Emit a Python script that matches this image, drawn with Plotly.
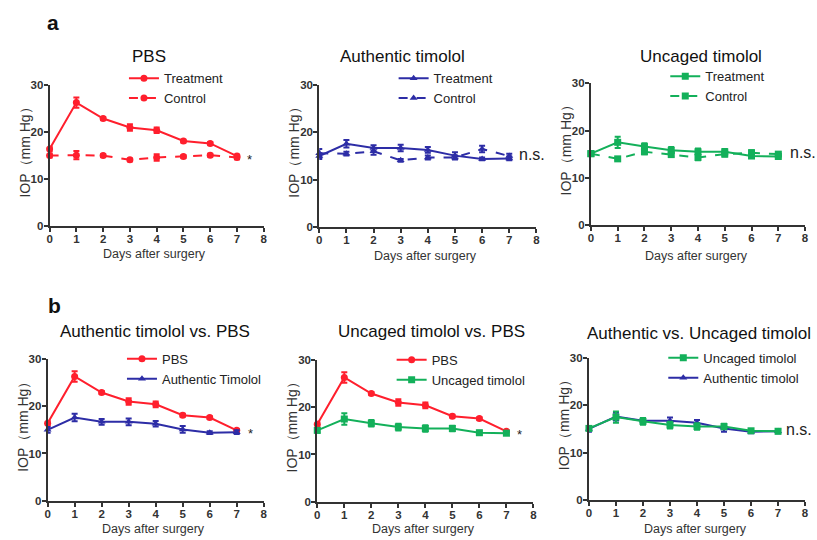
import plotly.graph_objects as go

W, H = 817, 540
days = [0, 1, 2, 3, 4, 5, 6, 7]

pbs_trt = [16.4, 26.3, 22.9, 21.0, 20.4, 18.1, 17.6, 14.9]
pbs_trt_err = [0.5, 1.1, 0.3, 0.7, 0.6, 0.3, 0.3, 0.3]
pbs_ctl = [15.0, 15.1, 15.0, 14.1, 14.6, 14.8, 15.1, 14.6]
pbs_ctl_err = [0.4, 0.9, 0.3, 0.3, 0.7, 0.3, 0.3, 0.4]

auth_trt = [15.0, 17.6, 16.7, 16.7, 16.3, 15.1, 14.4, 14.5]
auth_trt_err = [0.6, 0.8, 0.6, 0.7, 0.6, 0.7, 0.3, 0.4]
auth_ctl = [15.6, 15.5, 16.0, 14.1, 14.7, 14.7, 16.5, 15.0]
auth_ctl_err = [0.9, 0.4, 0.7, 0.3, 0.4, 0.4, 0.7, 0.5]

unc_trt = [15.1, 17.5, 16.6, 15.8, 15.5, 15.5, 14.6, 14.5]
unc_trt_err = [0.5, 1.2, 0.7, 0.7, 0.7, 0.6, 0.4, 0.4]
unc_ctl = [15.1, 14.0, 15.5, 14.9, 14.3, 15.0, 15.3, 15.0]
unc_ctl_err = [0.3, 0.3, 0.5, 0.4, 0.6, 0.5, 0.5, 0.4]

RED = "#ff1f2d"
BLUE = "#2d2da6"
GREEN = "#13b05a"
AX = "#333333"

# panel pixel boxes: (x_left, x_right, y_top(30), y_bottom(0))
boxes = [
    (47, 263, 81, 225),
    (319, 538, 81, 226),
    (593, 809, 79, 224),
    (45, 263, 361, 506),
    (317, 535, 362, 507),
    (591, 809, 360, 505),
]
titles = ["PBS", "Authentic timolol", "Uncaged timolol",
          "Authentic timolol vs. PBS", "Uncaged timolol vs. PBS",
          "Authentic vs. Uncaged timolol"]
title_x = [147, 403, 704, 153, 432, 702]
title_y = [52, 52, 52, 333, 333, 335]
xtitle_y = [254, 256, 256, 535, 535, 535]
x_title = "Days after surgery"
y_title = "IOP（mm Hg）"

# each panel: list of (name, y, err, color, symbol, dash)
panels = [
    [("Treatment", pbs_trt, pbs_trt_err, RED, "circle", "solid"),
     ("Control", pbs_ctl, pbs_ctl_err, RED, "circle", "dash")],
    [("Treatment", auth_trt, auth_trt_err, BLUE, "triangle-up", "solid"),
     ("Control", auth_ctl, auth_ctl_err, BLUE, "triangle-up", "dash")],
    [("Treatment", unc_trt, unc_trt_err, GREEN, "square", "solid"),
     ("Control", unc_ctl, unc_ctl_err, GREEN, "square", "dash")],
    [("PBS", pbs_trt, pbs_trt_err, RED, "circle", "solid"),
     ("Authentic Timolol", auth_trt, auth_trt_err, BLUE, "triangle-up", "solid")],
    [("PBS", pbs_trt, pbs_trt_err, RED, "circle", "solid"),
     ("Uncaged timolol", unc_trt, unc_trt_err, GREEN, "square", "solid")],
    [("Authentic timolol", auth_trt, auth_trt_err, BLUE, "triangle-up", "solid"),
     ("Uncaged timolol", unc_trt, unc_trt_err, GREEN, "square", "solid")],
]
legend_order = ["normal"] * 5 + ["reversed"]
sig_text = ["*", "n.s.", "n.s.", "*", "*", "n.s."]
sig_x = [7.48, 7.32, 7.4, 7.5, 7.5, 7.26]
sig_y = [14.2, 15.3, 15.3, 14.3, 14.3, 14.9]

fig = go.Figure()
layout = dict(width=W, height=H, margin=dict(l=0, r=0, t=0, b=0),
              paper_bgcolor="white", plot_bgcolor="white",
              font=dict(family="Liberation Sans, Arial", color="#222"))
annotations = []
tickfont = dict(size=11.5, color=AX, family="Liberation Sans, Arial", weight="bold")

for i, (box, series) in enumerate(zip(boxes, panels)):
    n = "" if i == 0 else str(i + 1)
    xl, xr, yt, yb = box
    xa = dict(domain=[xl / W, xr / W], range=[0, 8], tickvals=list(range(9)),
              showgrid=False, zeroline=False, showline=True, linecolor=AX, linewidth=2,
              ticks="outside", ticklen=4, tickwidth=2, tickcolor=AX,
              tickfont=tickfont, ticklabelstandoff=-3,
              anchor="y" + n, fixedrange=True)
    ya = dict(domain=[1 - yb / H, 1 - yt / H], range=[0, 30], tickvals=[0, 10, 20, 30],
              showgrid=False, zeroline=False, showline=True, linecolor=AX, linewidth=2,
              ticks="outside", ticklen=4, tickwidth=2, tickcolor=AX,
              tickfont=tickfont, ticklabelstandoff=-2,
              anchor="x" + n, fixedrange=True)
    layout["xaxis" + n] = xa
    layout["yaxis" + n] = ya
    leg = "legend" + n
    top_off = 22.5 if i < 3 else 15.5
    layout[leg] = dict(x=(xl + 75) / W, y=1 - (yt - top_off) / H, xanchor="left", yanchor="top",
                       bgcolor="rgba(0,0,0,0)", font=dict(size=13, color="#222"),
                       itemwidth=30, tracegroupgap=0, traceorder=legend_order[i])
    for (name, y, err, col, sym, dash) in series:
        fig.add_trace(go.Scatter(
            x=days, y=y, name=name, mode="lines+markers",
            error_y=dict(type="data", array=err, color=col, thickness=2, width=3),
            line=dict(color=col, width=2, dash=dash),
            marker=dict(color=col, symbol=sym, size=7),
            xaxis="x" + n, yaxis="y" + n, legend=leg, cliponaxis=False))
    annotations.append(dict(text=titles[i], xref="paper", yref="paper",
                            x=title_x[i] / W, y=1 - title_y[i] / H,
                            xanchor="center", yanchor="middle",
                            showarrow=False, font=dict(size=17, color="#111")))
    annotations.append(dict(text=x_title, xref="paper", yref="paper",
                            x=((xl + xr) / 2 - 2) / W, y=1 - xtitle_y[i] / H,
                            xanchor="center", yanchor="middle", showarrow=False,
                            font=dict(size=12.5, color="#333")))
    annotations.append(dict(text=y_title, xref="paper", yref="paper", textangle=-90,
                            x=(xl - 25) / W, y=1 - ((yt + yb) / 2 - 7) / H,
                            xanchor="center", yanchor="middle", showarrow=False,
                            font=dict(size=14, color="#333")))
    s = sig_text[i]
    annotations.append(dict(text=s, xref="x" + n, yref="y" + n, x=sig_x[i], y=sig_y[i],
                            xanchor="left" if s != "*" else "center", yanchor="middle",
                            showarrow=False, borderpad=0,
                            font=dict(size=16 if s != "*" else 13, color="#222")))

annotations.append(dict(text="<b>a</b>", xref="paper", yref="paper", x=42 / W, y=1 - 17 / H,
                        xanchor="left", yanchor="middle", showarrow=False,
                        font=dict(size=21, color="#111")))
annotations.append(dict(text="<b>b</b>", xref="paper", yref="paper", x=43 / W, y=1 - 306 / H,
                        xanchor="left", yanchor="middle", showarrow=False,
                        font=dict(size=21, color="#111")))
layout["annotations"] = annotations
layout["showlegend"] = True
fig.update_layout(**layout)
fig.write_html("out.html", config={"displayModeBar": False},
               post_script="document.body.style.margin='0';document.body.style.overflow='hidden';")
